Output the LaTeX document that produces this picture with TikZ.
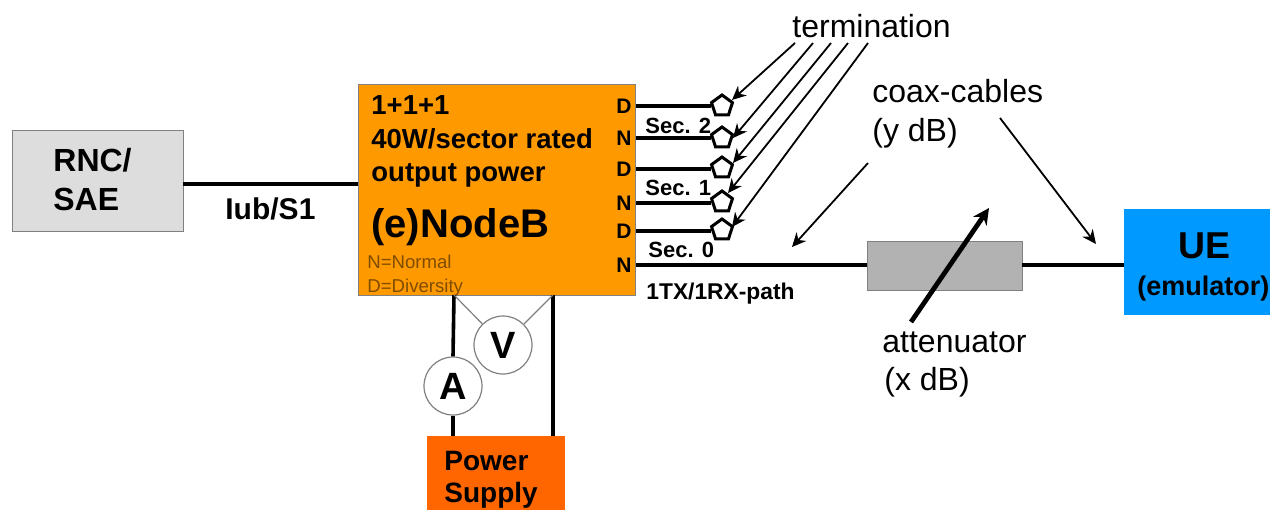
\documentclass[tikz,border=0pt]{standalone}
\usepackage{fontspec}
\setmainfont{Liberation Sans}
\usetikzlibrary{shapes.geometric,arrows.meta}
\definecolor{rncgray}{HTML}{DDDDDD}
\definecolor{btsorange}{HTML}{FF9900}
\definecolor{psuorange}{HTML}{FF6600}
\definecolor{ueblue}{HTML}{0099FF}
\definecolor{attgray}{HTML}{B2B2B2}
\definecolor{edgegray}{HTML}{808080}
\definecolor{notebrown}{HTML}{7F4D00}
\newcommand{\fsz}[1]{\fontsize{#1}{#1}\selectfont}
\tikzset{
  blockbox/.style={rectangle,inner sep=0pt,outer sep=0pt},
  txt/.style={anchor=base west,inner sep=0pt,font=\fsz{16}},
  txtb/.style={anchor=base west,inner sep=0pt,font=\fsz{#1}\bfseries},
  port/.style={anchor=east,inner sep=2pt,font=\fsz{10.5}\bfseries},
  term/.style={regular polygon,regular polygon sides=5,draw,line width=1.5pt,fill=white,minimum size=11pt,inner sep=0pt},
  meter/.style={circle,draw=gray,fill=white,line width=.6pt,minimum size=29pt,inner sep=0pt,font=\fsz{19}\bfseries},
  wire/.style={line width=1.8pt},
  pointer/.style={-{Stealth[length=7pt,width=6.5pt]},line width=.9pt}
}
\begin{document}
\begin{tikzpicture}[>=stealth, x=.5pt, y=-.5pt]
\useasboundingbox (0,0) rectangle (1270,510);
\node[blockbox,draw=edgegray,fill=rncgray,minimum width=85.5pt,minimum height=50.5pt] (rnc) at (97.5,180.5) {};
\node[blockbox,draw=edgegray,fill=btsorange,minimum width=138.5pt,minimum height=105.5pt] (bts) at (496.5,189.5) {};
\node[blockbox,fill=psuorange,minimum width=69pt,minimum height=37pt] (psu) at (496,473) {};
\node[blockbox,fill=ueblue,minimum width=73pt,minimum height=53pt] (ue) at (1197,262) {};
\node[blockbox,draw=edgegray,fill=attgray,minimum width=77.5pt,minimum height=24.5pt] (atten) at (944.5,265.5) {};
\node[txtb=16] (rncA) at (53,171) {RNC/};
\node[txtb=16] (rncB) at (53,210) {SAE};
\node[txtb=15] (iubS) at (225,219) {Iub/S1};
\node[txtb=13.75] (btsA) at (371,114) {1+1+1};
\node[txtb=13.75] (btsB) at (371,148) {40W/sector rated};
\node[txtb=13.75] (btsC) at (371,181) {output power};
\node[txtb=20] (btsD) at (371,237) {(e)NodeB};
\node[txt,font=\fsz{9.3},text=notebrown] (noteN) at (367,268) {N=Normal};
\node[txt,font=\fsz{9.3},text=notebrown] (noteD) at (367,292) {D=Diversity};
\node[port] (pDa) at (636,106) {D};
\node[port] (pNa) at (636,138) {N};
\node[port] (pDb) at (636,169) {D};
\node[port] (pNb) at (636,203) {N};
\node[port] (pDc) at (636,231) {D};
\node[port] (pNc) at (636,265) {N};
\node[term] (tDa) at (722,106) {};
\node[term] (tNa) at (722,138) {};
\node[term] (tDb) at (722,168) {};
\node[term] (tNb) at (722,202) {};
\node[term] (tDc) at (722,230) {};
\node[txtb=11] (secB) at (645,133) {Sec. 2};
\node[txtb=11] (secA) at (645,195) {Sec. 1};
\node[txtb=11] (secO) at (648,257) {Sec. 0};
\node[txtb=11.4] (path) at (646,299) {1TX/1RX-path};
\node[txt] (termL) at (792,37) {termination};
\node[txt] (coaxA) at (872,102) {coax-cables};
\node[txt] (coaxB) at (872,141) {(y dB)};
\node[txt] (attA) at (882,352) {attenuator};
\node[txt] (attB) at (884,390) {(x dB)};
\node[txtb=18.7] (ueA) at (1178,258) {UE};
\node[txtb=13.5] (ueB) at (1137,295) {(emulator)};
\node[txtb=14] (psuA) at (444,470) {Power};
\node[txtb=14] (psuB) at (444,502) {Supply};
\node[meter] (amp) at (453,386) {A};
\node[meter] (volt) at (503,345) {V};
\coordinate (iub) at (358,184);
\coordinate (busL) at (454,295);
\coordinate (busR) at (553,295);
\draw[wire](rnc.east|-iub)--(iub);
\draw[wire](pDa.east)--(tDa.west|-pDa.east);
\draw[wire](pNa.east)--(tNa.west|-pNa.east);
\draw[wire](pDb.east)--(tDb.west|-pDb.east);
\draw[wire](pNb.east)--(tNb.west|-pNb.east);
\draw[wire](pDc.east)--(tDc.west|-pDc.east);
\draw[wire](pNc.east)--(atten.west|-pNc.east);
\draw[wire](atten.east|-pNc.east)--(ue.west|-pNc.east);
\draw[wire](busL)--(amp.north);
\draw[wire](amp.south)--(amp.south|-psu.north);
\draw[wire](busR)--(busR|-psu.north);
\draw[gray,line width=.6pt](busL)--(volt);
\draw[gray,line width=.6pt](busR)--(volt);
\coordinate (fromA) at (795,43);
\coordinate (fromB) at (813,43);
\coordinate (fromC) at (831,43);
\coordinate (fromD) at (848,43);
\coordinate (fromE) at (868,43);
\coordinate (toA) at (732,100);
\coordinate (toB) at (733,138);
\coordinate (toC) at (733,163);
\coordinate (toD) at (728,193);
\coordinate (toE) at (732,227);
\draw[pointer](fromA)--(toA);
\draw[pointer](fromB)--(toB);
\draw[pointer](fromC)--(toC);
\draw[pointer](fromD)--(toD);
\draw[pointer](fromE)--(toE);
\coordinate (coaxL) at (868,163);
\coordinate (coaxM) at (792,247);
\coordinate (coaxR) at (1000,118);
\coordinate (coaxN) at (1096,244);
\draw[pointer](coaxL)--(coaxM);
\draw[pointer](coaxR)--(coaxN);
\coordinate (attS) at (911,322);
\coordinate (attE) at (989,208);
\draw[-{Stealth[length=8pt,width=8pt]},line width=2.4pt](attS)--(attE);
\end{tikzpicture}
\end{document}
